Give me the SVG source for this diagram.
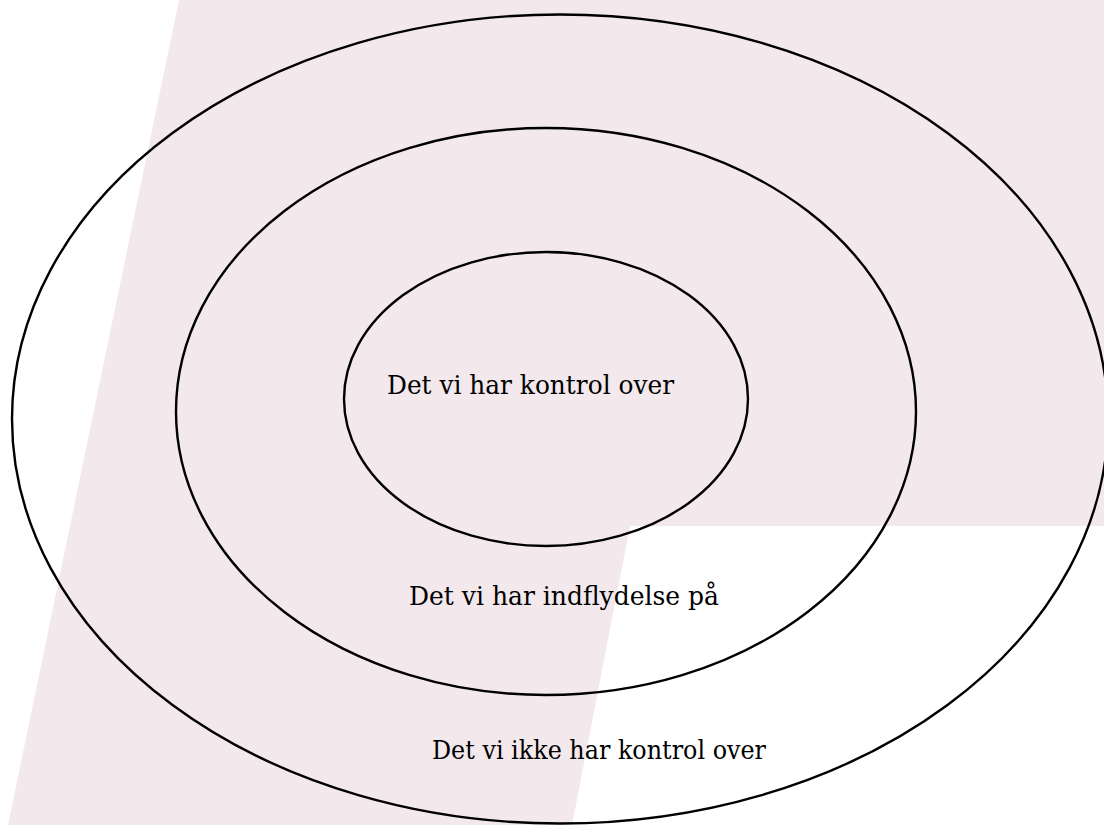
<svg xmlns="http://www.w3.org/2000/svg" width="1104" height="825" viewBox="0 0 1104 825">
  <style>
    .ring { fill: none; stroke: #000; stroke-width: 2.4; }
    .label { font-family: "DejaVu Serif", "Liberation Serif", serif; font-size: 25.5px; fill: #000; }
  </style>
  <rect x="0" y="0" width="1104" height="825" fill="#ffffff"/>
  <!-- slanted backdrop band -->
  <polygon id="backdrop" points="179,0 1104,0 1104,526 630,526 572,825 8,825" fill="#f3e8ec"/>
  <g id="outer">
    <ellipse class="ring" cx="560" cy="419" rx="548" ry="404.5"/>
    <text class="label" x="432" y="759" textLength="334" lengthAdjust="spacingAndGlyphs">Det vi ikke har kontrol over</text>
  </g>
  <g id="middle">
    <ellipse class="ring" cx="546" cy="411.5" rx="370" ry="283.5"/>
    <text class="label" x="409" y="605" textLength="310" lengthAdjust="spacingAndGlyphs">Det vi har indflydelse på</text>
  </g>
  <g id="inner">
    <ellipse class="ring" cx="546" cy="399" rx="202" ry="147"/>
    <text class="label" x="387" y="394" textLength="287" lengthAdjust="spacingAndGlyphs">Det vi har kontrol over</text>
  </g>
  <g id="connectors"/>
</svg>
